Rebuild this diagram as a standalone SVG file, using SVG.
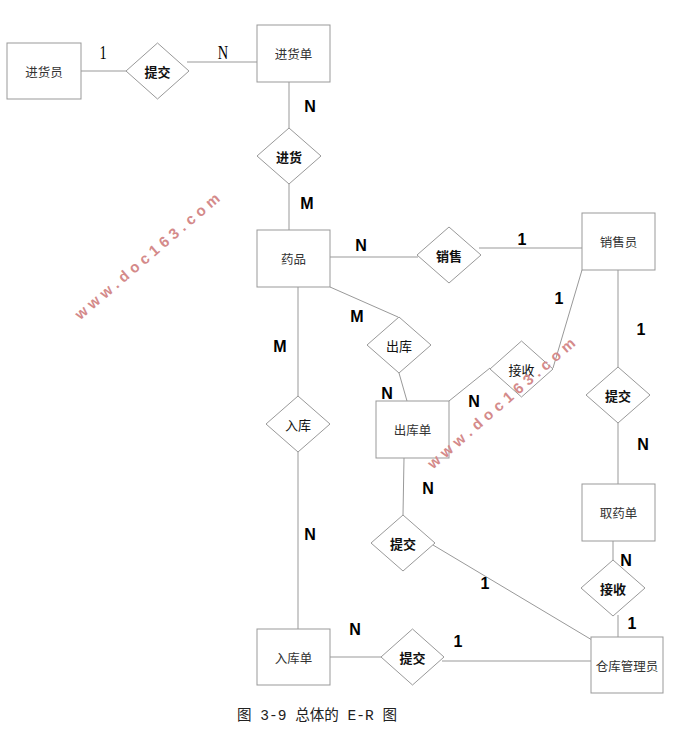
<svg xmlns="http://www.w3.org/2000/svg" width="673" height="731" viewBox="0 0 673 731">
<style>
.ent rect{fill:#fff;stroke:#999;stroke-width:1}
.rel polygon{fill:#fff;stroke:#999;stroke-width:1}
.ent text{font-family:"Noto Sans CJK SC",sans-serif;font-size:12.5px;fill:#333;text-anchor:middle;dominant-baseline:central}
.rel text{font-family:"Noto Sans CJK SC",sans-serif;font-size:13px;fill:#111;text-anchor:middle;dominant-baseline:central;font-weight:600}
.rel text.n{font-weight:400}
#connectors line{stroke:#999;stroke-width:1;fill:none}
.card{font-family:"Liberation Sans",Arial,sans-serif;font-size:16px;font-weight:bold;fill:#000;text-anchor:middle;dominant-baseline:central}
.cards{font-family:"Liberation Serif",serif;font-size:18px;fill:#000;text-anchor:middle;dominant-baseline:central}
.wm{font-family:"Liberation Sans",Arial,sans-serif;font-size:15px;font-weight:bold;fill:#d48a8a;text-anchor:middle;dominant-baseline:central}
.cap{font-family:"Liberation Mono","Noto Sans CJK SC",monospace;font-size:15px;fill:#222}
</style>
<rect width="673" height="731" fill="#fff"/>
<g id="connectors">
<line x1="81" y1="71" x2="126" y2="71"/>
<line x1="187" y1="62" x2="257" y2="62"/>
<line x1="289" y1="82" x2="289" y2="128"/>
<line x1="289" y1="184" x2="289" y2="230"/>
<line x1="330" y1="257" x2="418" y2="257"/>
<line x1="479" y1="248" x2="582" y2="248"/>
<line x1="330" y1="287" x2="398" y2="317"/>
<line x1="399" y1="373" x2="407" y2="401"/>
<line x1="298" y1="287" x2="298" y2="396"/>
<line x1="298" y1="452" x2="298" y2="629"/>
<line x1="582" y1="270" x2="553" y2="368"/>
<line x1="490" y1="368" x2="449" y2="401"/>
<line x1="618" y1="270" x2="618" y2="367"/>
<line x1="618" y1="423" x2="618" y2="484"/>
<line x1="613" y1="541" x2="613" y2="560"/>
<line x1="618" y1="615" x2="618" y2="637"/>
<line x1="404" y1="458" x2="403" y2="515"/>
<line x1="433" y1="545" x2="592" y2="640"/>
<line x1="330" y1="657" x2="381" y2="657"/>
<line x1="442" y1="661" x2="591" y2="661"/>
</g>
<g id="e-jinhuoyuan" class="ent"><rect x="7" y="43" width="74" height="56"/><text x="44" y="71">进货员</text></g>
<g id="e-jinhuodan" class="ent"><rect x="257" y="25" width="73" height="57"/><text x="293.5" y="53">进货单</text></g>
<g id="e-yaopin" class="ent"><rect x="257" y="230" width="73" height="57"/><text x="293.5" y="258.5">药品</text></g>
<g id="e-xiaoshouyuan" class="ent"><rect x="582" y="213" width="73" height="57"/><text x="618.5" y="241.5">销售员</text></g>
<g id="e-chukudan" class="ent"><rect x="376" y="401" width="73" height="57"/><text x="412.5" y="429.5">出库单</text></g>
<g id="e-quyaodan" class="ent"><rect x="582" y="484" width="73" height="57"/><text x="618.5" y="512.5">取药单</text></g>
<g id="e-rukudan" class="ent"><rect x="257" y="629" width="73" height="56"/><text x="293.5" y="657">入库单</text></g>
<g id="e-cangku" class="ent"><rect x="591" y="637" width="72" height="56"/><text x="627" y="665">仓库管理员</text></g>
<g id="r-tijiao1" class="rel"><polygon points="157.5,43 189,71 157.5,99 126,71"/><text x="157.5" y="71">提交</text></g>
<g id="r-jinhuo" class="rel"><polygon points="289,128 321,156 289,184 257,156"/><text x="289" y="156">进货</text></g>
<g id="r-xiaoshou" class="rel"><polygon points="449,227 481,255 449,283 417,255"/><text x="449" y="255">销售</text></g>
<g id="r-chuku" class="rel"><polygon points="399,317 431,345 399,373 367,345"/><text class="n" x="399" y="345">出库</text></g>
<g id="r-jieshou1" class="rel"><polygon points="521.5,341 553,369 521.5,397 490,369"/><text class="n" x="521.5" y="369">接收</text></g>
<g id="r-ruku" class="rel"><polygon points="298,396 330,424 298,452 266,424"/><text class="n" x="298" y="424">入库</text></g>
<g id="r-tijiao2" class="rel"><polygon points="618,367 650,395 618,423 586,395"/><text x="618" y="395">提交</text></g>
<g id="r-tijiao3" class="rel"><polygon points="403,515 435,543 403,571 371,543"/><text x="403" y="543">提交</text></g>
<g id="r-jieshou2" class="rel"><polygon points="613,560 645,588 613,616 581,588"/><text x="613" y="588">接收</text></g>
<g id="r-tijiao4" class="rel"><polygon points="412.5,629 444,657 412.5,685 381,657"/><text x="412.5" y="657">提交</text></g>
<g id="cardinalities">
<text class="cards" transform="translate(103 53) scale(0.8 1)">1</text>
<text class="cards" transform="translate(223 53) scale(0.8 1)">N</text>
<text class="card" x="310" y="106">N</text>
<text class="card" x="307" y="203">M</text>
<text class="card" x="361" y="245">N</text>
<text class="card" x="522" y="239">1</text>
<text class="card" x="357" y="316">M</text>
<text class="card" x="280" y="346">M</text>
<text class="card" x="559" y="298">1</text>
<text class="card" x="641" y="329">1</text>
<text class="card" x="387" y="393">N</text>
<text class="card" x="474" y="401">N</text>
<text class="card" x="643" y="444">N</text>
<text class="card" x="428" y="488">N</text>
<text class="card" x="310" y="534">N</text>
<text class="card" x="626" y="560">N</text>
<text class="card" x="485" y="583">1</text>
<text class="card" x="632" y="623">1</text>
<text class="card" x="355" y="629">N</text>
<text class="card" x="458" y="641">1</text>
</g>
<text class="wm" x="147" y="256" transform="rotate(-40.5 147 256)" textLength="185" lengthAdjust="spacing">www.doc163.com</text>
<text class="wm" x="501" y="403" transform="rotate(-41 501 403)" textLength="190" lengthAdjust="spacing">www.doc163.com</text>
<text class="cap" x="237" y="720" textLength="160" lengthAdjust="spacingAndGlyphs">图 3-9 总体的 E-R 图</text>
</svg>
